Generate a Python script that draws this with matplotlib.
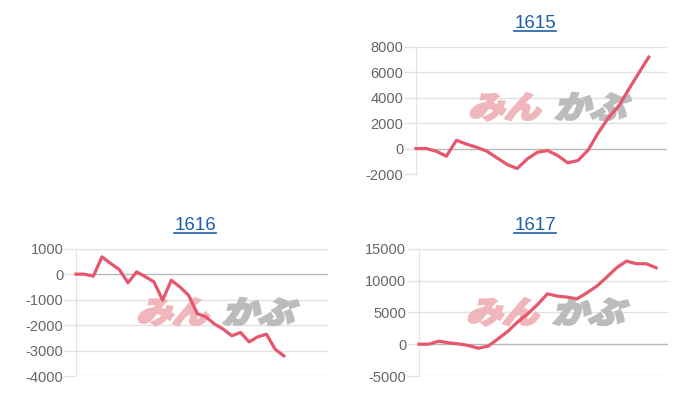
import matplotlib
matplotlib.use('Agg')
import matplotlib.pyplot as plt
from matplotlib.lines import Line2D
from matplotlib.patches import PathPatch
from matplotlib.textpath import TextPath
from matplotlib.font_manager import FontProperties
from matplotlib.transforms import Affine2D

plt.rcParams['font.family'] = ['Liberation Sans', 'DejaVu Sans']
plt.rcParams['axes.unicode_minus'] = False

# data
titles = ['1615', '1616', '1617']
s1615 = [0, 0, -210, -600, 650, 340, 100, -210, -730, -1250, -1570, -810,
         -290, -160, -550, -1120, -940, -130, 1230, 2400, 3310, 4620, 5920, 7180]
s1616 = [0, 0, -80, 680, 420, 180, -340, 90, -100, -300, -1020, -240, -500,
         -830, -1550, -1680, -1960, -2160, -2420, -2290, -2660, -2460, -2360,
         -2950, -3210]
s1617 = [0, 0, 470, 210, 50, -210, -630, -310, 840, 2040, 3510, 4770, 6230,
         7910, 7550, 7390, 7130, 8070, 9120, 10530, 12000, 13050, 12640, 12640,
         12000]
yticks_1615 = [-2000, 0, 2000, 4000, 6000, 8000]
yticks_1616 = [-4000, -3000, -2000, -1000, 0, 1000]
yticks_1617 = [-5000, 0, 5000, 10000, 15000]

LINE = '#e6566d'
GRID = '#e2e2e2'
BASE = '#b8b8b8'
LABEL = '#666666'
LINK = '#1f5fa8'

W, H = 700, 400
fig = plt.figure(figsize=(7, 4), dpi=100)


def px(l, t, r, b):
    return [l / W, 1 - b / H, (r - l) / W, (b - t) / H]


# title, values, ticks, axes box, x max, title centre, logo start (x, bottom)
charts = [
    (titles[0], s1615, yticks_1615, px(416, 46.7, 667, 174), 24.8, (535, 24), (468, 118)),
    (titles[1], s1616, yticks_1616, px(76, 248.7, 328, 376), 29.1, (195, 226), (136, 323)),
    (titles[2], s1617, yticks_1617, px(419, 248.7, 668, 376), 25.2, (535, 226), (466, 323)),
]

fp = FontProperties(family='Noto Sans CJK JP', weight='bold')

title_texts = []
for title, vals, yt, rect, xmax, tpos, logo in charts:
    ax = fig.add_axes(rect)
    for s in ['top', 'right', 'bottom']:
        ax.spines[s].set_visible(False)
    ax.spines['left'].set_color(GRID)
    ax.set_xlim(0, xmax)
    ax.set_ylim(yt[0], yt[-1])
    ax.set_yticks(yt)
    ax.set_xticks([])
    ax.tick_params(axis='y', length=8.6, color=GRID, width=1, pad=0.5,
                   labelsize=10.5, labelcolor=LABEL)
    for v in yt:
        ax.axhline(v, color=BASE if v == 0 else GRID, lw=1, zorder=1)
    ax.plot(range(len(vals)), vals, color=LINE, lw=2.3, zorder=3,
            solid_joinstyle='round', clip_on=False)

    # watermark logo, behind the line
    for txt, col, dx in [('みん', '#efb6bb', 0), ('かぶ', '#bcbcbc', 86)]:
        path = TextPath((0, 0), txt, size=36, prop=fp)
        tr = Affine2D().scale(1.0, 0.85).skew_deg(16, 0).translate(logo[0] + dx, H - logo[1])
        patch = PathPatch(path, transform=tr, facecolor=col, edgecolor=col,
                          lw=2.2, zorder=2, clip_on=False)
        ax.add_patch(patch)

    t = fig.text(tpos[0] / W, 1 - tpos[1] / H, title, ha='center', va='center',
                 fontsize=13.5, color=LINK)
    title_texts.append(t)

# underline the titles (they are links)
fig.canvas.draw()
r = fig.canvas.get_renderer()
for t in title_texts:
    bb = t.get_window_extent(r)
    y = (bb.y0 + 1.5) / H
    fig.add_artist(Line2D([bb.x0 / W, bb.x1 / W], [y, y], color=LINK, lw=1.2))

fig.savefig('out.png', dpi=100)
